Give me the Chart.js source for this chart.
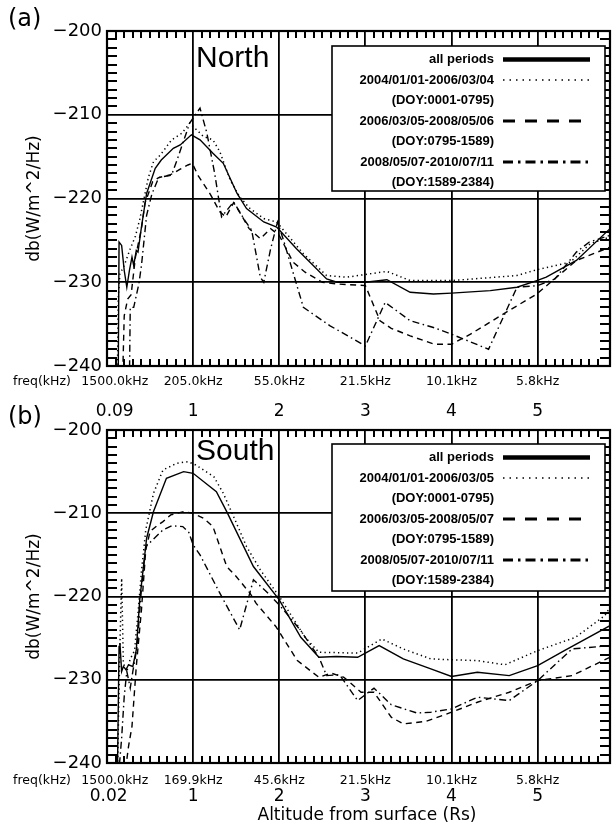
<!DOCTYPE html>
<html><head><meta charset="utf-8">
<script src="https://cdn.jsdelivr.net/npm/chart.js@4.4.1/dist/chart.umd.min.js"></script>
<style>html,body{margin:0;padding:0;background:#fff;width:614px;height:834px;overflow:hidden}
canvas{position:absolute;left:0}</style></head>
<body>
<canvas id="cN" width="614" height="400" style="top:0px"></canvas>
<canvas id="cS" width="614" height="434" style="top:400px"></canvas>
<script>
// ---------- axis / label arrays ----------
const X_MIN = 0, X_MAX = 5.84;
const Y_MIN = -240, Y_MAX = -200, Y_STEP = 10;
const GRID_X = [1, 2, 3, 4, 5];
const MINOR_X_STEP = 0.1, MINOR_Y_STEP = 1;
const FREQ_POS = [0.09, 1, 2, 3, 4, 5];
const NORTH_FREQ_LABELS = ['1500.0kHz', '205.0kHz', '55.0kHz', '21.5kHz', '10.1kHz', '5.8kHz'];
const SOUTH_FREQ_LABELS = ['1500.0kHz', '169.9kHz', '45.6kHz', '21.5kHz', '10.1kHz', '5.8kHz'];
const TOP_ALT_POS = [0.09, 1, 2, 3, 4, 5];
const TOP_ALT_LABELS = ['0.09', '1', '2', '3', '4', '5'];
const BOTTOM_ALT_POS = [0.02, 1, 2, 3, 4, 5];
const BOTTOM_ALT_LABELS = ['0.02', '1', '2', '3', '4', '5'];
const NORTH_LEGEND = ['all periods', '2004/01/01-2006/03/04', '(DOY:0001-0795)', '2006/03/05-2008/05/06', '(DOY:0795-1589)', '2008/05/07-2010/07/11', '(DOY:1589-2384)'];
const SOUTH_LEGEND = ['all periods', '2004/01/01-2006/03/05', '(DOY:0001-0795)', '2006/03/05-2008/05/07', '(DOY:0795-1589)', '2008/05/07-2010/07/11', '(DOY:1589-2384)'];

// ---------- North data (altitude Rs, dB) ----------
const N_ALL_X = [0.13,0.14,0.17,0.20,0.23,0.26,0.29,0.31,0.34,0.36,0.40,0.46,0.56,0.63,0.77,0.85,0.98,1.08,1.23,1.35,1.51,1.62,1.82,1.97,2.20,2.55,2.67,3.00,3.25,3.52,3.79,4.00,4.45,4.76,4.99,5.10,5.45,5.84];
const N_ALL_Y = [-242,-225.2,-225.6,-228.6,-230.6,-228.6,-227.0,-228.0,-226.2,-226.4,-223.4,-219.4,-216.4,-215.4,-214.0,-213.6,-212.4,-213.0,-214.6,-215.8,-219.4,-221.2,-222.8,-223.4,-226.0,-229.6,-230.0,-230.0,-229.7,-231.2,-231.4,-231.3,-231.0,-230.6,-229.8,-229.4,-227.4,-223.6];
const N_P1_X = [0.12,0.13,0.15,0.20,0.27,0.33,0.38,0.42,0.48,0.54,0.62,0.75,0.87,0.96,1.02,1.12,1.23,1.31,1.43,1.54,1.66,1.82,1.97,2.28,2.55,2.78,3.25,3.52,4.00,4.76,4.99,5.38,5.61,5.84];
const N_P1_Y = [-242,-232,-229,-228,-226,-224.5,-222.5,-220.5,-217.5,-215.6,-214.8,-213.0,-212.2,-211.0,-211.6,-212.6,-213.0,-214.4,-217.8,-219.8,-221.2,-222.4,-222.8,-226.6,-229.2,-229.4,-228.7,-229.8,-229.8,-229.2,-228.5,-227.6,-225.4,-224.6];
const N_P2_X = [0.18,0.20,0.24,0.28,0.33,0.40,0.44,0.53,0.60,0.73,0.85,0.94,0.99,1.06,1.20,1.31,1.38,1.47,1.55,1.65,1.78,1.90,2.00,2.16,2.30,2.50,2.67,3.00,3.17,3.30,3.52,3.80,4.00,4.22,4.60,4.99,5.22,5.45,5.84];
const N_P2_Y = [-242,-234,-232,-231.5,-227,-223.6,-220.6,-218,-217.5,-217.2,-216.5,-216,-215.8,-217.3,-219.5,-221.6,-222.2,-220.5,-221.8,-223.6,-224.8,-223.6,-224.4,-227.6,-228.8,-230,-230.2,-230.4,-234.6,-235.5,-236.4,-237.4,-237.4,-236.2,-233.8,-231.4,-229.4,-227.4,-225.8];
const N_P3_X = [0.26,0.27,0.31,0.37,0.40,0.46,0.52,0.60,0.75,0.81,0.96,1.08,1.16,1.25,1.33,1.47,1.60,1.68,1.78,1.82,1.90,1.98,2.05,2.28,2.59,3.00,3.23,3.52,3.79,4.00,4.43,4.76,5.00,5.20,5.45,5.60,5.84];
const N_P3_Y = [-242,-233,-233,-230.2,-228,-222,-219.5,-217.5,-217.2,-215.5,-211,-209.2,-212.2,-217,-222.2,-220.4,-222.6,-223.8,-229.4,-230,-226,-222.8,-225,-233,-235.2,-237.6,-232.4,-234.6,-235.4,-236.2,-238,-230.6,-230.4,-229.6,-226.4,-225.2,-224.4];

// ---------- South data ----------
const S_ALL_X = [0.12,0.14,0.15,0.17,0.19,0.22,0.25,0.30,0.34,0.38,0.46,0.54,0.69,0.89,1.00,1.27,1.39,1.70,2.00,2.25,2.46,2.66,2.91,3.16,3.44,3.76,4.00,4.30,4.67,5.00,5.31,5.84];
const S_ALL_Y = [-242,-226,-225.6,-229,-228.4,-228.8,-228.2,-228.4,-226.4,-220.4,-213,-209.8,-205.8,-205.0,-205.2,-207.4,-209.8,-216.4,-220.4,-224.9,-227.3,-227.2,-227.3,-225.9,-227.5,-228.7,-229.6,-229.1,-229.5,-228.3,-226.5,-223.5];
const S_P1_X = [0.12,0.15,0.17,0.19,0.23,0.27,0.32,0.36,0.40,0.45,0.54,0.65,0.81,0.94,1.03,1.24,1.35,1.47,1.62,1.78,2.00,2.30,2.46,2.91,3.19,3.44,3.76,4.00,4.30,4.62,5.00,5.44,5.78,5.84];
const S_P1_Y = [-242,-226,-217.8,-228,-229,-227.5,-226.5,-222,-217,-212,-207.6,-204.8,-204.0,-203.8,-204.2,-205.6,-207.6,-210.4,-214,-216.8,-220.0,-224.9,-226.7,-226.8,-225.1,-226.3,-227.5,-227.6,-227.7,-228.2,-226.5,-224.9,-222.3,-221.3];
const S_P2_X = [0.20,0.25,0.29,0.34,0.40,0.45,0.50,0.58,0.65,0.74,0.89,1.00,1.12,1.23,1.39,1.50,1.66,1.73,1.96,2.21,2.46,2.60,2.75,2.95,3.10,3.30,3.44,3.70,4.00,4.30,4.67,5.00,5.40,5.84];
const S_P2_Y = [-242,-238,-235.6,-228.4,-221.6,-214.4,-212.2,-211.5,-211,-210.2,-209.8,-210,-210.6,-211.6,-216.4,-217.6,-219.6,-220.8,-223.6,-227.7,-229.7,-229.2,-229.7,-231.5,-231.5,-234.5,-235.3,-235,-233.9,-232.7,-231.5,-230.1,-229.5,-227.3];
const S_P3_X = [0.13,0.17,0.20,0.23,0.27,0.30,0.35,0.40,0.45,0.55,0.65,0.75,0.88,0.95,1.00,1.08,1.31,1.54,1.70,1.84,2.00,2.25,2.46,2.55,2.70,2.91,3.10,3.30,3.60,3.76,4.00,4.30,4.67,5.00,5.40,5.84];
const S_P3_Y = [-242,-237,-232,-229,-231,-229,-226,-219,-214,-213,-212,-211.5,-211.6,-212.3,-213.8,-215,-219.6,-224,-218,-219.3,-221,-224.1,-227.3,-229.5,-229.4,-232.5,-231,-233,-234,-233.9,-233.5,-232.1,-232.5,-230.1,-226.3,-225.9];

// ---------- styles ----------
const STYLES = [
  { dash: [], lw: 1.4, legDash: [], legLw: 4.5 },
  { dash: [1.3, 3.2], lw: 1.5, legDash: [1.5, 5], legLw: 1.6 },
  { dash: [6, 4.5], lw: 1.4, legDash: [12, 10], legLw: 3 },
  { dash: [7, 3.5, 1.5, 3.5], lw: 1.4, legDash: [10, 5, 2.5, 5], legLw: 3 }
];
const FONT = 'DejaVu Sans';
const SANS = 'Liberation Sans';

function pts(xs, ys) { return xs.map((x, i) => ({ x: x, y: ys[i] })); }
function ds(xs, ys, k) {
  return { data: pts(xs, ys), borderColor: '#000', borderWidth: STYLES[k].lw, borderDash: STYLES[k].dash,
           pointRadius: 0, fill: false, tension: 0, borderCapStyle: 'butt' };
}
function txt(ctx, s, x, y, font, align, base) {
  ctx.font = font; ctx.textAlign = align || 'left'; ctx.textBaseline = base || 'middle'; ctx.fillText(s, x, y);
}

function drawMinorTicks(chart) {
  const ctx = chart.ctx, a = chart.chartArea, xs = chart.scales.x, ys = chart.scales.y;
  ctx.save();
  ctx.setLineDash([]);
  ctx.fillStyle = '#000';
  const nx = Math.round((X_MAX - X_MIN) / MINOR_X_STEP);
  for (let k = 1; k < nx; k++) {
    if (k % 10 === 0) continue;
    const px = Math.round(xs.getPixelForValue(X_MIN + k * MINOR_X_STEP));
    ctx.fillRect(px - 1, Math.round(a.top), 2, 7);
    ctx.fillRect(px - 1, Math.round(a.bottom) - 7, 2, 7);
  }
  const ny = Math.round((Y_MAX - Y_MIN) / MINOR_Y_STEP);
  for (let k = 1; k < ny; k++) {
    if (k % 10 === 0) continue;
    const py = Math.round(ys.getPixelForValue(Y_MIN + k * MINOR_Y_STEP));
    ctx.fillRect(Math.round(a.left), py - 1, 10, 2);
    ctx.fillRect(Math.round(a.right) - 10, py - 1, 10, 2);
  }
  ctx.restore();
}

const decor = {
  id: 'panelDecor',
  afterDatasetsDraw(chart) {
    drawMinorTicks(chart);
  },
  afterDraw(chart, args, o) {
    const ctx = chart.ctx, a = chart.chartArea, xs = chart.scales.x;
    ctx.save();
    ctx.setLineDash([]);
    ctx.fillStyle = '#000'; ctx.strokeStyle = '#000';
    // frame
    ctx.lineWidth = 2.2;
    ctx.strokeRect(a.left, a.top, a.right - a.left, a.bottom - a.top);

    // legend box
    const L = o.legend;
    ctx.fillStyle = '#fff';
    ctx.fillRect(L.left, L.top, L.right - L.left, L.bottom - L.top);
    ctx.lineWidth = 1.6; ctx.strokeStyle = '#000';
    ctx.strokeRect(L.left, L.top, L.right - L.left, L.bottom - L.top);
    ctx.fillStyle = '#000';
    const rowStyle = [0, 1, null, 2, null, 3, null];
    o.legendText.forEach((s, i) => {
      const y = L.top + 13.5 + i * 20.5;
      txt(ctx, s, L.textRight, y, 'bold 13px "' + SANS + '"', 'right', 'middle');
      const k = rowStyle[i];
      if (k !== null) {
        ctx.save();
        ctx.lineWidth = STYLES[k].legLw; ctx.setLineDash(STYLES[k].legDash);
        ctx.beginPath(); ctx.moveTo(L.lineLeft, y); ctx.lineTo(L.lineRight, y); ctx.stroke();
        ctx.restore();
      }
    });

    // panel letter + region name
    txt(ctx, o.letter, 8, o.letterY, '24px "' + FONT + '"', 'left', 'middle');
    txt(ctx, o.region, 196, o.regionBase, '30px "' + SANS + '"', 'left', 'alphabetic');

    // y title
    ctx.save();
    ctx.translate(o.yTitleX, (a.top + a.bottom) / 2);
    ctx.rotate(-Math.PI / 2);
    txt(ctx, 'db(W/m^2/Hz)', 0, 0, '17px "' + FONT + '"', 'center', 'middle');
    ctx.restore();

    // freq row
    const fy = a.bottom + o.freqDy;
    txt(ctx, 'freq(kHz)', 13, fy, '12.5px "' + FONT + '"', 'left', 'middle');
    o.freqLabels.forEach((s, i) => {
      txt(ctx, s, xs.getPixelForValue(FREQ_POS[i]), fy, '12.5px "' + FONT + '"', 'center', 'middle');
    });

    if (o.topAlt) {
      TOP_ALT_LABELS.forEach((s, i) => {
        txt(ctx, s, xs.getPixelForValue(TOP_ALT_POS[i]), a.top - 18, '17px "' + FONT + '"', 'center', 'middle');
      });
    }
    if (o.bottomAlt) {
      BOTTOM_ALT_LABELS.forEach((s, i) => {
        txt(ctx, s, xs.getPixelForValue(BOTTOM_ALT_POS[i]), a.bottom + 34, '17px "' + FONT + '"', 'center', 'middle');
      });
      txt(ctx, 'Altitude from surface (Rs)', 367, a.bottom + 53, '17px "' + FONT + '"', 'center', 'middle');
    }
    ctx.restore();
  }
};

function makeChart(id, H, top, bottom, sets, deco) {
  return new Chart(document.getElementById(id), {
    type: 'line',
    data: { datasets: sets },
    plugins: [decor],
    options: {
      responsive: false, animation: false, maintainAspectRatio: false,
      layout: { padding: { left: 0, right: 4, top: top, bottom: 0 } },
      plugins: { legend: { display: false }, tooltip: { enabled: false }, panelDecor: deco },
      scales: {
        x: {
          type: 'linear', min: X_MIN, max: X_MAX,
          afterBuildTicks: s => { s.ticks = GRID_X.map(v => ({ value: v })); },
          afterFit: s => { s.height = H - bottom; },
          ticks: { display: false },
          grid: { color: '#000', lineWidth: 1.8, drawTicks: false },
          border: { display: false }
        },
        y: {
          type: 'linear', min: Y_MIN, max: Y_MAX,
          afterFit: s => { s.width = 107; },
          ticks: { stepSize: Y_STEP, color: '#000', padding: 5,
                   font: { family: FONT, size: 18 },
                   callback: v => (v < 0 ? '\u2212' : '') + Math.abs(v) },
          grid: { color: '#000', lineWidth: 1.8, drawTicks: false },
          border: { display: false }
        }
      }
    }
  });
}

makeChart('cN', 400, 31, 366, [
  ds(N_ALL_X, N_ALL_Y, 0), ds(N_P1_X, N_P1_Y, 1), ds(N_P2_X, N_P2_Y, 2), ds(N_P3_X, N_P3_Y, 3)
], {
  legend: { left: 332, top: 46, right: 605, bottom: 191, textRight: 494, lineLeft: 503, lineRight: 590 },
  legendText: NORTH_LEGEND, letter: '(a)', letterY: 20, region: 'North', regionBase: 67,
  yTitleX: 35, freqDy: 16, freqLabels: NORTH_FREQ_LABELS, topAlt: false, bottomAlt: false
});

makeChart('cS', 434, 30, 363, [
  ds(S_ALL_X, S_ALL_Y, 0), ds(S_P1_X, S_P1_Y, 1), ds(S_P2_X, S_P2_Y, 2), ds(S_P3_X, S_P3_Y, 3)
], {
  legend: { left: 332, top: 44, right: 605, bottom: 191, textRight: 494, lineLeft: 503, lineRight: 590 },
  legendText: SOUTH_LEGEND, letter: '(b)', letterY: 18, region: 'South', regionBase: 60,
  yTitleX: 35, freqDy: 18, freqLabels: SOUTH_FREQ_LABELS, topAlt: true, bottomAlt: true
});
</script>
</body></html>
